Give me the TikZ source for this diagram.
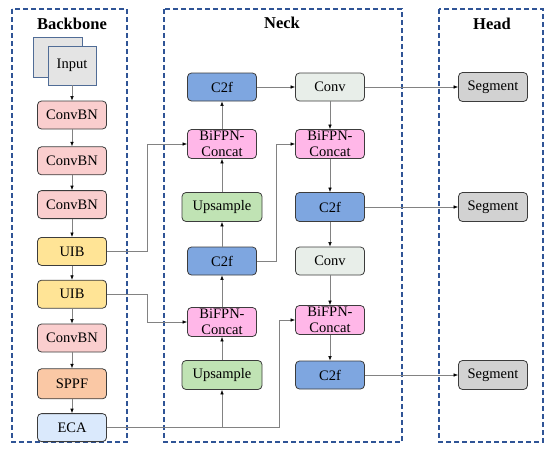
\documentclass[tikz,border=0pt]{standalone}
\usepackage{fontspec}
\setmainfont{Liberation Serif}
\newfontfamily\diagfont{Liberation Serif}
\usetikzlibrary{arrows.meta,positioning}
\definecolor{convpink}{RGB}{250,206,206}
\definecolor{uibyellow}{RGB}{255,228,150}
\definecolor{sppforange}{RGB}{250,200,165}
\definecolor{ecablue}{RGB}{218,233,252}
\definecolor{ctwofblue}{RGB}{126,166,224}
\definecolor{convgray}{RGB}{232,238,233}
\definecolor{bifpnpink}{RGB}{255,183,232}
\definecolor{upgreen}{RGB}{192,227,180}
\definecolor{seggray}{RGB}{210,210,210}
\definecolor{inputgray}{RGB}{228,228,228}
\definecolor{inputedge}{RGB}{80,108,150}
\definecolor{stageblue}{RGB}{47,84,150}
\definecolor{blkline}{RGB}{60,60,60}
\definecolor{linkgray}{RGB}{130,130,130}

\begin{document}
\begin{tikzpicture}[x=1pt,y=-1pt, every node/.style={font=\diagfont\fontsize{14.5}{16.5}\selectfont},
  blk/.style={draw=blkline,rounded corners=4pt,line width=0.8pt,minimum width=69pt,minimum height=28pt,inner sep=0pt},
  inbox/.style={draw=inputedge,fill=inputgray,line width=0.9pt,minimum width=48pt,minimum height=39pt,inner sep=0pt},
  link/.style={draw=linkgray,line width=0.6pt,-{Latex[length=4.5pt,width=3.5pt,color=black]}},
  stage/.style={draw=stageblue,line width=1.1pt,dash pattern=on 5pt off 3pt},
  stagetitle/.style={font=\diagfont\bfseries\fontsize{16.5}{17}\selectfont}]
  \useasboundingbox (0,0) rectangle (550,453);
  % stage frames
  \draw[stage] (12,9) rectangle (127,442);
  \draw[stage] (164,9) rectangle (402,442);
  \draw[stage] (439,9) rectangle (543,442);
  \node[stagetitle] (bbtitle) at (72,24) {Backbone};
  \node[stagetitle] (necktitle) at (282,23) {Neck};
  \node[stagetitle] (headtitle) at (492,24) {Head};
  % backbone
  \node[inbox,minimum width=49pt,minimum height=40pt] (inback) at (57.5,57) {};
  \node[inbox] (input) at (72,65.5) {Input};
  \node[blk,fill=convpink] (cbn1) at (72,115) {ConvBN};
  \node[blk,fill=convpink,below=17pt of cbn1] (cbn2) {ConvBN};
  \node[blk,fill=convpink,below=15pt of cbn2] (cbn3) {ConvBN};
  \node[blk,fill=uibyellow,below=18pt of cbn3] (uib1) {UIB};
  \node[blk,fill=uibyellow,below=14pt of uib1] (uib2) {UIB};
  \node[blk,fill=convpink,below=15pt of uib2] (cbn4) {ConvBN};
  \node[blk,fill=sppforange,below=16pt of cbn4,minimum height=30pt] (sppf) {SPPF};
  \node[blk,fill=ecablue,below=14pt of sppf] (eca) {ECA};
  \foreach \a/\b in {input/cbn1,cbn1/cbn2,cbn2/cbn3,cbn3/uib1,uib1/uib2,uib2/cbn4,cbn4/sppf,sppf/eca}
    \draw[link] (\a) -- (\b);
  % neck, left column
  \node[blk,fill=ctwofblue] (c2fa) at (222,87) {C2f};
  \node[blk,fill=bifpnpink,align=center,minimum height=29pt] (bfa) at (222,144) {BiFPN-\\Concat};
  \node[blk,fill=upgreen,minimum width=80pt,minimum height=29pt] (upa) at (222,207) {Upsample};
  \node[blk,fill=ctwofblue] (c2fb) at (222,261) {C2f};
  \node[blk,fill=bifpnpink,align=center,minimum height=29pt] (bfb) at (222,322) {BiFPN-\\Concat};
  \node[blk,fill=upgreen,minimum width=80pt,minimum height=29pt] (upb) at (222,375) {Upsample};
  % neck, right column
  \node[blk,fill=convgray] (conva) at (330,87) {Conv};
  \node[blk,fill=bifpnpink,align=center,minimum height=29pt] (bfc) at (330,144) {BiFPN-\\Concat};
  \node[blk,fill=ctwofblue,minimum height=29pt] (c2fc) at (330,207) {C2f};
  \node[blk,fill=convgray] (convb) at (330,261) {Conv};
  \node[blk,fill=bifpnpink,align=center,minimum height=29pt] (bfd) at (330,320) {BiFPN-\\Concat};
  \node[blk,fill=ctwofblue] (c2fd) at (330,375) {C2f};
  % head
  \node[blk,fill=seggray,minimum height=29pt] (seg1) at (493,87) {Segment};
  \node[blk,fill=seggray,minimum height=29pt] (seg2) at (493,207) {Segment};
  \node[blk,fill=seggray,minimum height=29pt] (seg3) at (493,375) {Segment};
  % connections
  \foreach \a/\b in {upb/bfb,bfb/c2fb,c2fb/upa,upa/bfa,bfa/c2fa,c2fa/conva,conva/bfc,bfc/c2fc,c2fc/convb,convb/bfd,bfd/c2fd,conva/seg1,c2fc/seg2,c2fd/seg3}
    \draw[link] (\a) -- (\b);
  \draw[link] (uib1.east) -- ++(40,0) |- (bfa.west);
  \draw[link] (uib2.east) -- ++(40,0) |- (bfb.west);
  \draw[link] (eca.east) -| (upb.south);
  \draw[link] (eca.east) -- ++(172,0) |- (bfd.west);
  \draw[link] (c2fb.east) -- ++(19.5,0) |- (bfc.west);
\end{tikzpicture}
\end{document}
